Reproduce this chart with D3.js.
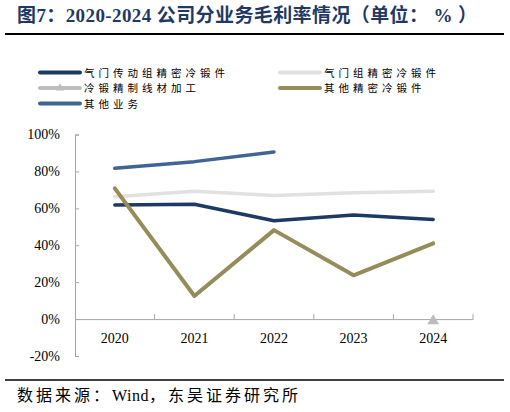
<!DOCTYPE html>
<html><head><meta charset="utf-8">
<script src="https://cdn.jsdelivr.net/npm/d3@7/dist/d3.min.js"></script>
<style>body{margin:0;background:#fff;}svg{display:block;}</style>
</head><body>
<svg id="c" width="510" height="412"></svg>
<script>
const years = ["2020","2021","2022","2023","2024"];
const yTicks = [-20,0,20,40,60,80,100];
const sNames = ["气门传动组精密冷锻件","气门组精密冷锻件","冷锻精制线材加工","其他精密冷锻件","其他业务"];
const sColors = ["#1c3a63","#e1e1e1","#bdbdbd","#968c59","#3f6597"];
const valve_drive = [61.8,62.2,53.3,56.4,54.0];
const valve_group = [66.3,69.2,67.0,68.5,69.2];
const wire = [null,null,null,null,-1];
const other_forging = [70.8,12.5,48.2,23.7,41.0];
const other_biz = [81.7,85.3,90.5,null,null];
const series = [valve_drive,valve_group,wire,other_forging,other_biz];

const svg = d3.select("#c");
const serif = "'Liberation Serif','Noto Sans CJK SC',serif";
const cjk = "'Noto Sans CJK SC','Liberation Serif',sans-serif";

// title
const t = svg.append("text").attr("x",17).attr("y",22).attr("fill","#1f3864")
  .attr("font-weight","bold").attr("font-size",19).attr("letter-spacing",0.4);
t.append("tspan").attr("font-family",cjk).text("图");
t.append("tspan").attr("font-family",serif).text("7");
t.append("tspan").attr("font-family",cjk).text("：");
t.append("tspan").attr("font-family",serif).text("2020-2024 ");
t.append("tspan").attr("font-family",cjk).text("公司分业务毛利率情况（单位：");
t.append("tspan").attr("font-family",serif).text(" % ");
t.append("tspan").attr("font-family",cjk).text("）");
svg.append("line").attr("x1",5).attr("x2",504).attr("y1",34).attr("y2",34).attr("stroke","#000").attr("stroke-width",2);

// scales
const x = d3.scaleBand().domain(years).range([75,473]);
const y = d3.scaleLinear().domain([-20,100]).range([356,134.5]);
const cx = d => x(d)+x.bandwidth()/2;

// axes
const ya = svg.append("g").attr("transform","translate(75,0)")
  .call(d3.axisRight(y).tickValues(yTicks).tickSize(4).tickFormat(d=>d+"%"));
ya.select(".domain").attr("stroke","#a6a6a6");
ya.selectAll(".tick line").attr("stroke","#a6a6a6");
ya.selectAll(".tick text").attr("x",-15).attr("text-anchor","end")
  .attr("font-family",serif).attr("font-size",14).attr("fill","#000");

const xa = svg.append("g").attr("transform",`translate(0,${y(0)})`)
  .call(d3.axisBottom(x).tickSize(0));
xa.select(".domain").attr("stroke","#a6a6a6");
xa.selectAll(".tick text").attr("dy",0).attr("y",24)
  .attr("font-family",serif).attr("font-size",14).attr("fill","#000");
// boundary ticks (pointing up)
svg.append("g").selectAll("line").data(years.slice(1).concat(["end"])).join("line")
  .attr("x1",d=>d==="end"?x.range()[1]:x(d)).attr("x2",d=>d==="end"?x.range()[1]:x(d))
  .attr("y1",y(0)).attr("y2",y(0)-5).attr("stroke","#a6a6a6");

// lines
const line = d3.line().defined(d=>d.v!=null).x(d=>cx(d.k)).y(d=>y(d.v));
series.forEach((s,i)=>{
  if(i===2) return;
  svg.append("path").datum(years.map((k,j)=>({k,v:s[j]})))
    .attr("d",line).attr("fill","none").attr("stroke",sColors[i])
    .attr("stroke-width",i===3?4:3.5).attr("stroke-linejoin","round").attr("stroke-linecap","round");
});
// triangle markers for wire
svg.append("g").selectAll("path").data(years.map((k,j)=>({k,v:wire[j]})).filter(d=>d.v!=null))
  .join("path").attr("d",d3.symbol(d3.symbolTriangle,60))
  .attr("transform",d=>`translate(${cx(d.k)},${y(d.v)})`).attr("fill",sColors[2]);

// legend
const legPos = [[40,72.5],[280,72.5],[40,88],[280,88],[40,103.5]];
sNames.forEach((n,i)=>{
  const [lx,ly] = legPos[i];
  svg.append("line").attr("x1",lx).attr("x2",lx+40).attr("y1",ly).attr("y2",ly)
    .attr("stroke",sColors[i]).attr("stroke-width",4).attr("stroke-linecap","round");
  if(i===2) svg.append("path").attr("d",d3.symbol(d3.symbolTriangle,30)).attr("transform",`translate(${lx+20},${ly})`).attr("fill",sColors[i]);
  svg.append("text").attr("x",lx+44).attr("y",ly+4).attr("font-family",cjk).attr("font-size",10.5)
    .attr("letter-spacing",4).attr("fill","#000").text(n);
});

// footer
svg.append("line").attr("x1",5).attr("x2",504).attr("y1",380).attr("y2",380).attr("stroke","#000").attr("stroke-width",1.5);
const f = svg.append("text").attr("x",17).attr("y",401).attr("font-size",16).attr("fill","#000");
f.append("tspan").attr("font-family",cjk).attr("letter-spacing",3).text("数据来源：");
f.append("tspan").attr("font-family",serif).attr("letter-spacing",0.5).text("Wind");
f.append("tspan").attr("font-family",cjk).attr("letter-spacing",3).text("，东吴证券研究所");
</script>
</body></html>
